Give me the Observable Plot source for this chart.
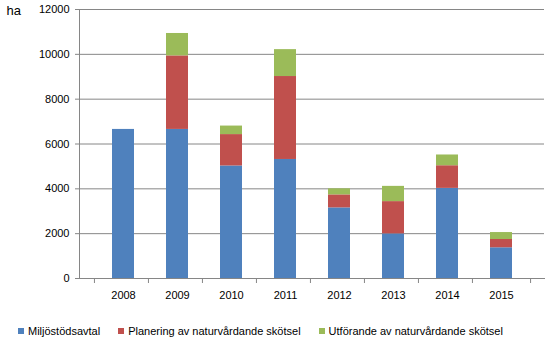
<!DOCTYPE html>
<html>
<head>
<meta charset="utf-8">
<script src="https://cdn.jsdelivr.net/npm/d3@7"></script>
<script src="https://cdn.jsdelivr.net/npm/@observablehq/plot@0.6"></script>
<style>
  html, body { margin: 0; padding: 0; background: #fff; }
  #chart { width: 556px; }
  .legend { display: flex; align-items: center; height: 41px; padding-left: 18px; font: 11px "Liberation Sans", Arial, sans-serif; color: #000; }
  .legend .item { display: flex; align-items: center; margin-right: 18px; }
  .legend .sw { width: 6px; height: 6px; margin-right: 4px; }
</style>
</head>
<body>
<div id="chart"></div>
<script>
const years = ["2008", "2009", "2010", "2011", "2012", "2013", "2014", "2015"];
const series = ["Miljöstödsavtal", "Planering av naturvårdande skötsel", "Utförande av naturvårdande skötsel"];
const miljostod = [6650, 6650, 5020, 5310, 3150, 1990, 4020, 1370];
const planering = [0, 3280, 1400, 3700, 580, 1440, 1010, 370];
const utforande = [0, 1000, 380, 1200, 270, 680, 480, 310];
const yTicks = [0, 2000, 4000, 6000, 8000, 10000, 12000];
const colors = ["#4F81BD", "#C0504D", "#9BBB59"];

const values = [miljostod, planering, utforande];
const data = [];
series.forEach((s, si) => years.forEach((y, yi) => data.push({year: y, series: s, value: values[si][yi]})));

const W = 556, H = 310, mL = 79, mR = 12, mT = 9, mB = 32;
const step = (W - mL - mR) / years.length;
const font = '"Liberation Sans", Arial, sans-serif';
const grey = "#868686";

const plot = Plot.plot({
  width: W, height: H,
  marginLeft: mL, marginRight: mR, marginTop: mT, marginBottom: mB,
  style: {fontFamily: font, fontSize: "11px", color: "#000", background: "#fff"},
  x: {domain: years, padding: 0.6, label: null},
  y: {domain: [0, 12000], label: null},
  color: {domain: series, range: colors},
  marks: [
    Plot.ruleY(yTicks.filter(d => d > 0), {stroke: grey, strokeOpacity: 1, strokeWidth: 1}),
    Plot.barY(data, {x: "year", y: "value", fill: "series", order: series}),
    Plot.frame({anchor: "left", stroke: grey, strokeOpacity: 1}),
    Plot.frame({anchor: "bottom", stroke: grey, strokeOpacity: 1}),
    Plot.axisY(yTicks, {tickSize: 4, stroke: grey, tickPadding: 6, fill: "#000", tickFormat: d => String(d)}),
    Plot.axisX({tickSize: 0, tickPadding: 13, fill: "#000"}),
    Plot.ruleX(years, {x: d => d, dx: -step / 2, y1: 0, y2: 0, insetBottom: -5, stroke: grey, strokeOpacity: 1}),
    Plot.ruleX(years.slice(-1), {x: d => d, dx: step / 2, y1: 0, y2: 0, insetBottom: -5, stroke: grey, strokeOpacity: 1}),
    Plot.text(["ha"], {frameAnchor: "top-left", dx: -73, dy: -4, text: d => d, fontSize: 13, fill: "#000"})
  ]
});
document.getElementById("chart").appendChild(plot);

const legend = document.createElement("div");
legend.className = "legend";
series.forEach((s, i) => {
  const it = document.createElement("div");
  it.className = "item";
  const sw = document.createElement("div");
  sw.className = "sw";
  sw.style.background = colors[i];
  const t = document.createElement("span");
  t.textContent = s;
  it.appendChild(sw); it.appendChild(t);
  legend.appendChild(it);
});
document.getElementById("chart").appendChild(legend);
</script>
</body>
</html>
